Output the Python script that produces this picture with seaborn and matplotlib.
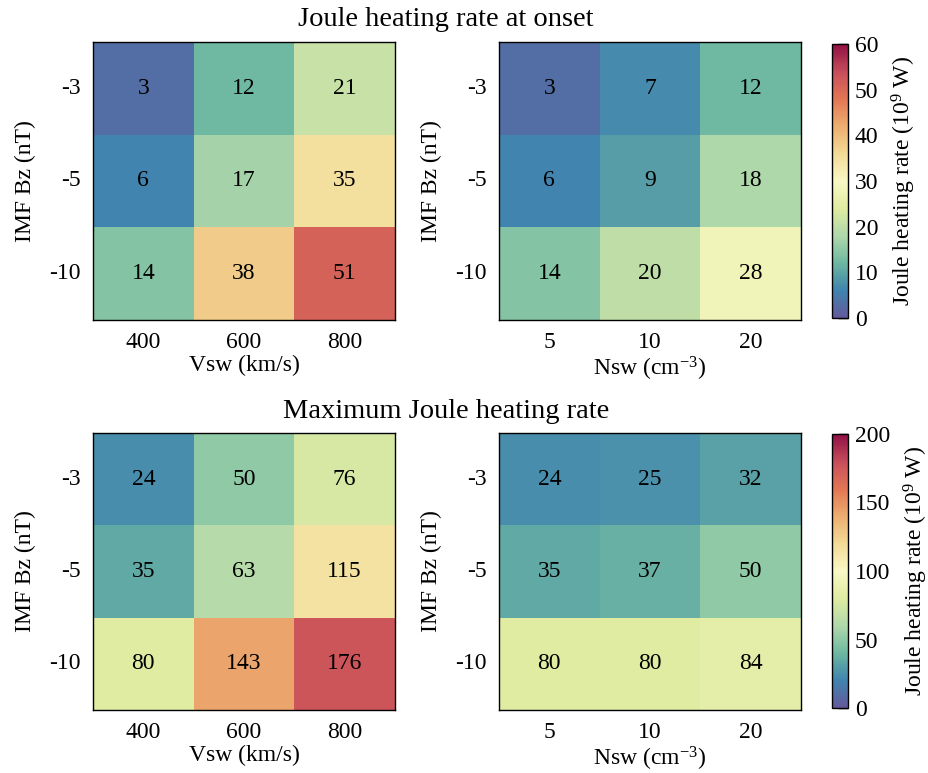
import numpy as np
import pandas as pd
import seaborn as sns
import matplotlib.pyplot as plt
from matplotlib.colors import ListedColormap
from matplotlib.ticker import MultipleLocator

sns.set_theme(style="white")
plt.rcParams['font.family'] = ['Liberation Serif', 'DejaVu Serif']
plt.rcParams['mathtext.fontset'] = 'custom'
plt.rcParams['mathtext.rm'] = 'Liberation Serif'
plt.rcParams['mathtext.it'] = 'Liberation Serif:italic'
plt.rcParams['text.color'] = 'black'
plt.rcParams['axes.labelcolor'] = 'black'
plt.rcParams['xtick.color'] = 'black'
plt.rcParams['ytick.color'] = 'black'

bz_labels = ["-3", "-5", "-10"]
vsw_labels = ["400", "600", "800"]
nsw_labels = ["5", "10", "20"]

onset_vsw = [[3, 12, 21], [6, 17, 35], [14, 38, 51]]
onset_nsw = [[3, 7, 12], [6, 9, 18], [14, 20, 28]]
max_vsw = [[24, 50, 76], [35, 63, 115], [80, 143, 176]]
max_nsw = [[24, 25, 32], [35, 37, 50], [80, 80, 84]]

# slightly muted spectral palette
base = plt.get_cmap("Spectral_r")
cmap = ListedColormap([sns.desaturate(base(i / 255.0)[:3], 0.8) for i in range(256)])

W, H = 929, 773
fig = plt.figure(figsize=(W / 100, H / 100), dpi=100)


def box(x0, y0, x1, y1):
    return [x0 / W, 1 - y1 / H, (x1 - x0) / W, (y1 - y0) / H]


FS = 17
panels = [
    (box(93, 42, 395, 320), onset_vsw, vsw_labels, "Vsw (km/s)", 60),
    (box(499, 42, 801, 320), onset_nsw, nsw_labels, "Nsw (cm$^{-3}$)", 60),
    (box(93, 433, 395, 710), max_vsw, vsw_labels, "Vsw (km/s)", 200),
    (box(499, 433, 801, 710), max_nsw, nsw_labels, "Nsw (cm$^{-3}$)", 200),
]
cbar_boxes = {60: box(832, 44, 848, 318), 200: box(832, 434, 848, 708)}

for rect, vals, xl, xlabel, vmax in panels:
    ax = fig.add_axes(rect)
    df = pd.DataFrame(vals, index=bz_labels, columns=xl)
    is_right = rect[0] > 0.5
    if is_right:
        cax = fig.add_axes(cbar_boxes[vmax])
        kw = dict(cbar=True, cbar_ax=cax)
    else:
        kw = dict(cbar=False)
    sns.heatmap(df, ax=ax, cmap=cmap, vmin=0, vmax=vmax, annot=True,
                fmt="d", annot_kws={"fontsize": FS, "color": "black"},
                linewidths=0, **kw)
    for s in ax.spines.values():
        s.set_visible(True)
        s.set_color("black")
        s.set_linewidth(1.0)
    ax.tick_params(axis="both", length=0, labelsize=FS, colors="black")
    ax.tick_params(axis="x", pad=9)
    ax.tick_params(axis="y", pad=9)
    ax.set_yticklabels(bz_labels, rotation=0)
    ax.set_xticklabels(xl, rotation=0)
    ax.set_xlabel(xlabel, fontsize=FS, labelpad=1)
    ax.set_ylabel("IMF Bz (nT)", fontsize=FS, labelpad=9)
    if is_right:
        cb = ax.collections[0].colorbar
        cax.set_ylim(0, vmax)
        cb.set_ticks(np.arange(0, vmax + 1, 10 if vmax == 60 else 50))
        cax.yaxis.set_minor_locator(MultipleLocator(1 if vmax == 60 else 10))
        cax.tick_params(which="major", direction="in", length=7, width=1,
                        labelsize=FS, colors="black", pad=5)
        cax.tick_params(which="minor", direction="in", length=3.5, width=0.8,
                        right=True)
        cb.outline.set_edgecolor("black")
        cb.outline.set_linewidth(1.0)
        cb.set_label("Joule heating rate (10$^9$ W)", fontsize=FS, labelpad=8)

fig.text(446 / W, 1 - 19 / H, "Joule heating rate at onset", ha="center",
         va="center", fontsize=20.5)
fig.text(446 / W, 1 - 411 / H, "Maximum Joule heating rate", ha="center",
         va="center", fontsize=20.5)

fig.savefig("out.png", dpi=100)
